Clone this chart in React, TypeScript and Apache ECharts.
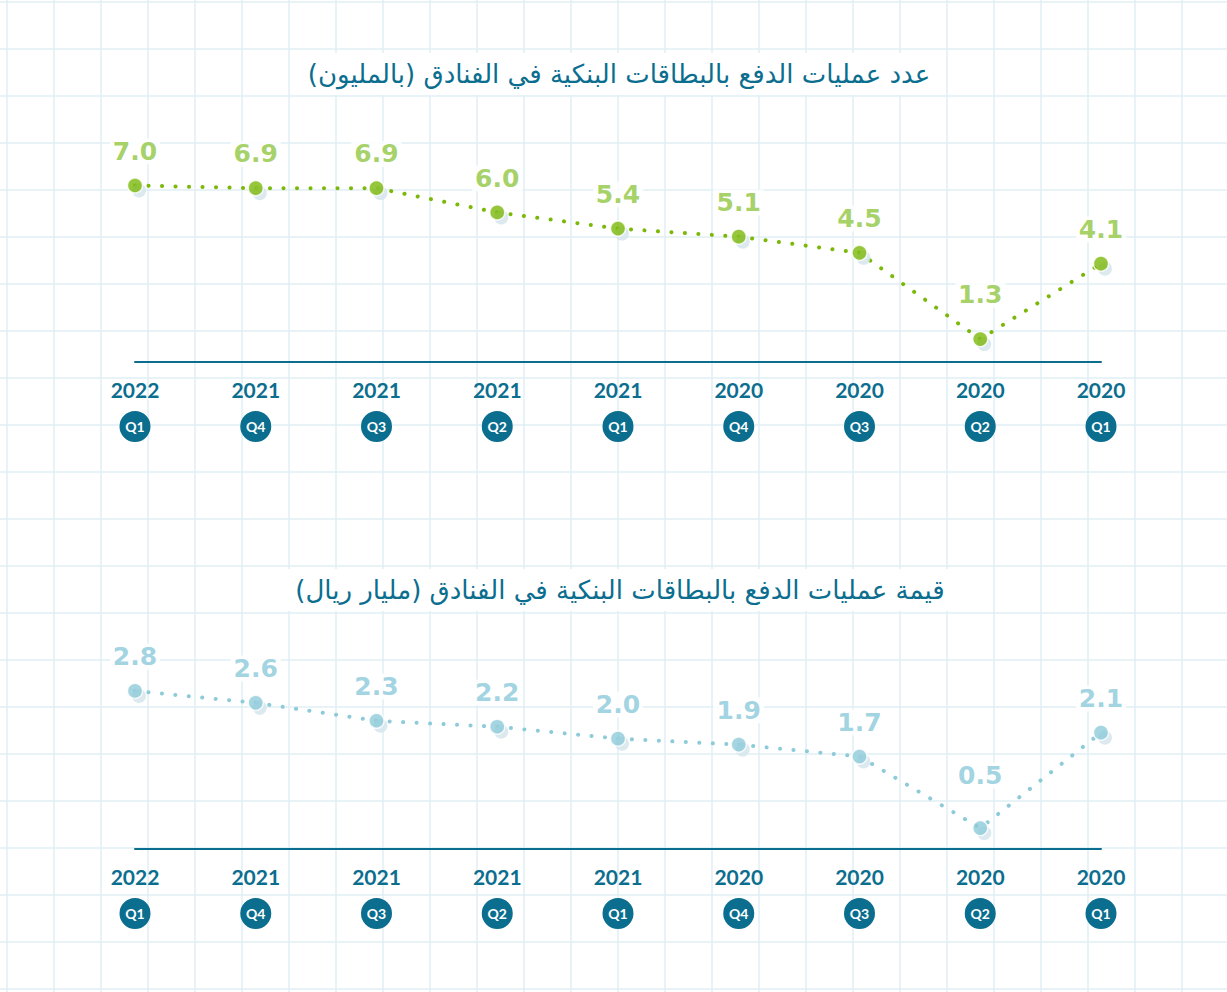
import React, { useEffect, useRef } from "react";
import * as echarts from "echarts";

const years = ["2022", "2021", "2021", "2021", "2021", "2020", "2020", "2020", "2020"];
const quarters = ["Q1", "Q4", "Q3", "Q2", "Q1", "Q4", "Q3", "Q2", "Q1"];
const countValues = [7.0, 6.9, 6.9, 6.0, 5.4, 5.1, 4.5, 1.3, 4.1];
const amountValues = [2.8, 2.6, 2.3, 2.2, 2.0, 1.9, 1.7, 0.5, 2.1];
const title1 = "عدد عمليات الدفع بالبطاقات البنكية في الفنادق (بالمليون)";
const title2 = "قيمة عمليات الدفع بالبطاقات البنكية في الفنادق (مليار ريال)";

const categories = years.map((y, i) => `${y}|${quarters[i]}`);

const TEAL = "#0b6e8f";
const GREEN_PT = "#7cb80a";
const GREEN_LBL = "#8fc63f";
const BLUE_PT = "#8ecbd9";
const BLUE_LBL = "#8ac9d9";
const SHADOW = "#d3e5ec";

function makeSeries(idx: number, values: number[], ptColor: string, lblColor: string, minLift: number) {
  const minVal = Math.min(...values);
  const labelled = values.map((v) =>
    v === minVal ? { value: v, label: { distance: 13 + minLift } } : v
  );
  return [
    {
      type: "line",
      xAxisIndex: idx,
      yAxisIndex: idx,
      data: values,
      symbol: "none",
      lineStyle: { color: ptColor, width: 4, type: [0.1, 13.4], cap: "round" },
      z: 2,
      silent: true,
    },
    {
      type: "scatter",
      xAxisIndex: idx,
      yAxisIndex: idx,
      data: values,
      symbolSize: 14,
      symbolOffset: [4, 5],
      itemStyle: { color: SHADOW },
      z: 3,
      silent: true,
    },
    {
      type: "scatter",
      xAxisIndex: idx,
      yAxisIndex: idx,
      data: labelled,
      symbolSize: 15,
      itemStyle: { color: ptColor, borderColor: "#ffffff", borderWidth: 1.5 },
      z: 4,
      label: {
        show: true,
        position: "top",
        distance: 13,
        formatter: (p: any) => Number(p.value).toFixed(1),
        fontFamily: "DejaVu Sans",
        fontWeight: "bold",
        fontSize: 25,
        lineHeight: 26,
        color: lblColor,
        backgroundColor: "#ffffff",
        padding: [0, 3],
      },
      silent: true,
    },
  ];
}

function makeXAxis(idx: number) {
  return {
    type: "category",
    gridIndex: idx,
    data: categories,
    boundaryGap: false,
    axisLine: { show: true, onZero: false, lineStyle: { color: TEAL, width: 2 } },
    axisTick: { show: false },
    splitLine: { show: false },
    axisLabel: {
      interval: 0,
      margin: 5,
      formatter: (v: string) => {
        const [y, q] = v.split("|");
        return `{y|${y}}\n{q|${q}}`;
      },
      rich: {
        y: {
          fontFamily: "Lato",
          fontWeight: "bold",
          fontSize: 21,
          lineHeight: 44,
          color: TEAL,
          align: "center",
        },
        q: {
          fontFamily: "Lato",
          fontWeight: "bold",
          fontSize: 14,
          color: "#ffffff",
          backgroundColor: TEAL,
          width: 31,
          height: 31,
          lineHeight: 31,
          borderRadius: 15.5,
          align: "center",
        },
      },
    },
  };
}

function buildGraphic() {
  const els: any[] = [];
  for (let x = 7; x <= 1227; x += 47) {
    els.push({
      type: "line",
      shape: { x1: x, y1: 0, x2: x, y2: 992 },
      style: { stroke: "#e1eff5", lineWidth: 1.5 },
      silent: true,
      z: -10,
    });
  }
  for (let y = 2; y <= 992; y += 47) {
    els.push({
      type: "line",
      shape: { x1: 0, y1: y, x2: 1227, y2: y },
      style: { stroke: "#e1eff5", lineWidth: 1.5 },
      silent: true,
      z: -10,
    });
  }
  return els;
}

export default function App() {
  const ref = useRef<HTMLDivElement>(null);
  useEffect(() => {
    if (!ref.current) return;
    const chart = echarts.init(ref.current, undefined, { renderer: "svg" });
    const titleStyle = {
      fontFamily: "DejaVu Sans",
      fontWeight: "normal",
      fontSize: 26,
      lineHeight: 34,
      color: TEAL,
    };
    chart.setOption({
      animation: false,
      backgroundColor: "#ffffff",
      graphic: buildGraphic(),
      title: [
        {
          text: title1,
          left: 609,
          top: 53,
          textAlign: "center",
          backgroundColor: "#ffffff",
          padding: [4, 10],
          textStyle: titleStyle,
        },
        {
          text: title2,
          left: 610,
          top: 569,
          textAlign: "center",
          backgroundColor: "#ffffff",
          padding: [4, 10],
          textStyle: titleStyle,
        },
      ],
      grid: [
        { left: 135, right: 126, top: 172, height: 190 },
        { left: 135, right: 126, top: 679, height: 170 },
      ],
      xAxis: [makeXAxis(0), makeXAxis(1)],
      yAxis: [
        { type: "value", gridIndex: 0, min: 0.45, max: 7.5, show: false, splitLine: { show: false } },
        { type: "value", gridIndex: 1, min: 0.15, max: 3.0, show: false, splitLine: { show: false } },
      ],
      series: [
        ...makeSeries(0, countValues, GREEN_PT, GREEN_LBL, 10),
        ...makeSeries(1, amountValues, BLUE_PT, BLUE_LBL, 18),
      ],
    });
    return () => chart.dispose();
  }, []);
  return (
    <div
      ref={ref}
      style={{ position: "absolute", left: 0, top: 0, width: 1227, height: 992 }}
    />
  );
}
